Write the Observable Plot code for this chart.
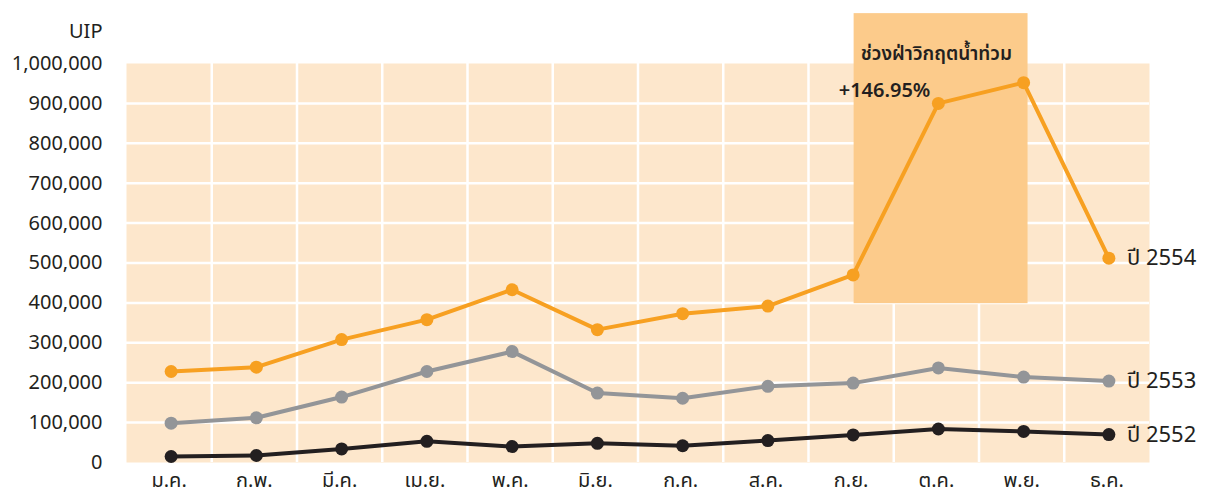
<!DOCTYPE html>
<html>
<head>
<meta charset="utf-8">
<script src="https://cdn.jsdelivr.net/npm/d3@7"></script>
<script src="https://cdn.jsdelivr.net/npm/@observablehq/plot@0.6"></script>
<style>
  html, body { margin: 0; padding: 0; background: #ffffff; }
</style>
</head>
<body>
<div id="chart"></div>
<script>
const months = ["ม.ค.","ก.พ.","มี.ค.","เม.ย.","พ.ค.","มิ.ย.","ก.ค.","ส.ค.","ก.ย.","ต.ค.","พ.ย.","ธ.ค."];
const series = ["ปี 2552", "ปี 2553", "ปี 2554"];
const y2552 = [15000, 17500, 34000, 53000, 40000, 48000, 42000, 55000, 69000, 84000, 78000, 70000];
const y2553 = [98500, 112000, 164000, 228000, 278000, 174000, 161000, 191000, 199000, 237000, 214000, 204000];
const y2554 = [228000, 239000, 308000, 358000, 433000, 333000, 373000, 392000, 470000, 900000, 952000, 512000];
const colors = ["#231f20", "#939598", "#f7a021"];
const yTicks = [0, 100000, 200000, 300000, 400000, 500000, 600000, 700000, 800000, 900000, 1000000];
const yGrid = [100000, 200000, 300000, 400000, 500000, 600000, 700000, 800000, 900000];
const xGrid = [0.5, 1.5, 2.5, 3.5, 4.5, 5.5, 6.5, 7.5, 8.5, 9.5, 10.5];
const crisis = {from: 8, to: 10.04, low: 398000, high: 1125000, title: "ช่วงฝ่าวิกฤตน้ำท่วม", titleY: 1025000, growth: "+146.95%", growthY: 932000};

const valuesBy = [y2552, y2553, y2554];
const data = [];
series.forEach((s, si) => valuesBy[si].forEach((v, i) => data.push({series: s, i, v})));
const lastPts = series.map((s, si) => ({series: s, i: 11, v: valuesBy[si][11]}));

const font = "'Noto Sans', 'Noto Sans Thai', 'DejaVu Sans', sans-serif";
const txt = "#231f20";

const chart = Plot.plot({
  width: 1205,
  height: 493,
  marginLeft: 126,
  marginRight: 56,
  marginTop: 63,
  marginBottom: 31,
  style: {fontFamily: font, fontSize: "20px", color: txt, background: "#ffffff", overflow: "visible"},
  x: {type: "linear", domain: [-0.5, 11.5]},
  y: {domain: [0, 1000000]},
  color: {domain: series, range: colors},
  marks: [
    Plot.frame({fill: "#fde7cc", stroke: null}),
    Plot.ruleY(yGrid, {stroke: "#ffffff", strokeWidth: 2.5}),
    Plot.ruleX(xGrid, {stroke: "#ffffff", strokeWidth: 2.5}),
    Plot.rect([crisis], {x1: "from", x2: "to", y1: "low", y2: "high", fill: "#fccb8b", dx: 3, clip: false}),
    Plot.line(data, {x: "i", y: "v", z: "series", stroke: "series", strokeWidth: 4, dx: 2}),
    Plot.dot(data, {x: "i", y: "v", fill: "series", r: 6.5, stroke: null, dx: 2}),
    Plot.text(lastPts, {x: "i", y: "v", text: "series", dx: 20, textAnchor: "start", fontSize: 22, fill: txt}),
    Plot.text([crisis], {x: 9, y: "titleY", text: "title", fontSize: 19, fontWeight: 600, fill: txt}),
    Plot.text([crisis], {x: 9, y: "growthY", text: "growth", dx: -6, textAnchor: "end", fontSize: 20, fontWeight: 600, fill: txt}),
    Plot.text(["UIP"], {frameAnchor: "top-left", text: d => d, dx: -24, dy: -32, textAnchor: "end", lineAnchor: "middle", fontSize: 20, fill: txt}),
    Plot.axisY({ticks: yTicks, tickSize: 0, tickPadding: 24, tickFormat: d3.format(","), label: null, fontSize: 20, fill: txt}),
    Plot.axisX({ticks: d3.range(12), tickSize: 0, tickPadding: 10, tickFormat: i => months[i], label: null, fontSize: 20, fill: txt})
  ]
});
document.getElementById("chart").appendChild(chart);
</script>
</body>
</html>
